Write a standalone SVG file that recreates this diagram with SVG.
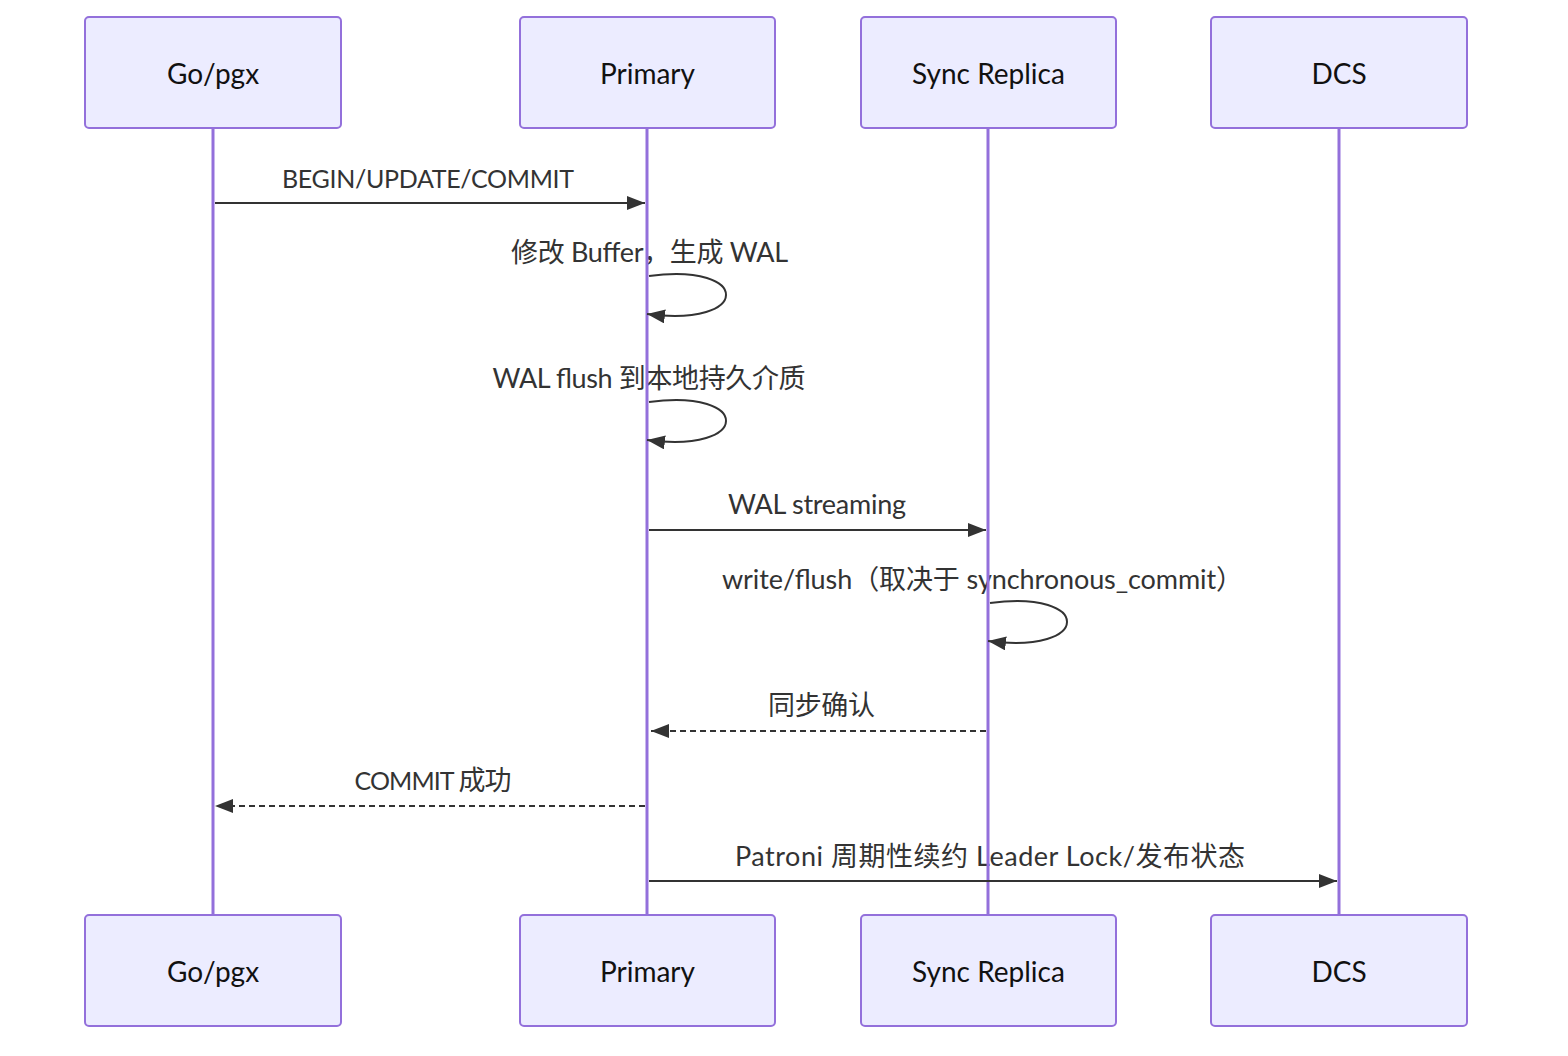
<svg xmlns="http://www.w3.org/2000/svg" width="1568" height="1056" viewBox="0 0 1568 1056">
<style>
.actor rect{fill:#ECECFF;stroke:#9370DB;stroke-width:2}
.actor text{font-family:Lato,"Noto Sans CJK SC",sans-serif;font-size:28px;fill:#111;text-anchor:middle;dominant-baseline:central}
.life{stroke:#9370DB;stroke-width:3}
.msg{stroke:#333;stroke-width:2;fill:none}
.dash{stroke-dasharray:6,4}
.lbl{font-family:Lato,"Noto Sans CJK SC",sans-serif;font-size:27px;fill:#333;text-anchor:middle}
.caps{font-size:25px}
</style>
<defs>
<marker id="arrow" markerUnits="userSpaceOnUse" markerWidth="20" markerHeight="16" refX="18" refY="7" orient="auto">
<path d="M0,0 L18,7 L0,14 z" fill="#333"/>
</marker>
</defs>
<rect width="1568" height="1056" fill="#fff"/>
<g id="labels">
<text class="lbl caps" x="428" y="188" textLength="292" lengthAdjust="spacing">BEGIN/UPDATE/COMMIT</text>
<text class="lbl" x="649.5" y="262" textLength="277" lengthAdjust="spacing">修改 Buffer，生成 WAL</text>
<text class="lbl" x="649" y="388" textLength="313" lengthAdjust="spacing">WAL flush 到本地持久介质</text>
<text class="lbl" x="817" y="514" textLength="178" lengthAdjust="spacing">WAL streaming</text>
<text class="lbl" x="982.5" y="589" textLength="521" lengthAdjust="spacing">write/flush（取决于 synchronous_commit）</text>
<text class="lbl" x="821.5" y="715" textLength="107" lengthAdjust="spacing">同步确认</text>
<text class="lbl" x="433" y="790" textLength="157" lengthAdjust="spacing"><tspan class="caps">COMMIT </tspan>成功</text>
<text class="lbl" x="990" y="866" textLength="510" lengthAdjust="spacing">Patroni 周期性续约 Leader Lock/发布状态</text>
</g>
<g id="lifelines">
<line class="life" x1="213" y1="128" x2="213" y2="915"/>
<line class="life" x1="647" y1="128" x2="647" y2="915"/>
<line class="life" x1="988" y1="128" x2="988" y2="915"/>
<line class="life" x1="1339" y1="128" x2="1339" y2="915"/>
</g>
<g id="connectors">
<line class="msg" x1="215" y1="203" x2="645" y2="203" marker-end="url(#arrow)"/>
<path class="msg" d="M649,276 C752,262 752,328 647,314" marker-end="url(#arrow)"/>
<path class="msg" d="M649,402 C752,388 752,454 647,440" marker-end="url(#arrow)"/>
<line class="msg" x1="649" y1="530" x2="986" y2="530" marker-end="url(#arrow)"/>
<path class="msg" d="M990,603 C1093,589 1093,655 988,641" marker-end="url(#arrow)"/>
<line class="msg dash" x1="986" y1="731" x2="651" y2="731" marker-end="url(#arrow)"/>
<line class="msg dash" x1="645" y1="806" x2="215" y2="806" marker-end="url(#arrow)"/>
<line class="msg" x1="649" y1="881" x2="1337" y2="881" marker-end="url(#arrow)"/>
</g>
<g id="actor-gopgx-top" class="actor"><rect x="85" y="17" width="256" height="111" rx="4"/><text x="213" y="73">Go/pgx</text></g>
<g id="actor-primary-top" class="actor"><rect x="520" y="17" width="255" height="111" rx="4"/><text x="647.5" y="73">Primary</text></g>
<g id="actor-sync-top" class="actor"><rect x="861" y="17" width="255" height="111" rx="4"/><text x="988.5" y="73">Sync Replica</text></g>
<g id="actor-dcs-top" class="actor"><rect x="1211" y="17" width="256" height="111" rx="4"/><text x="1339" y="73">DCS</text></g>
<g id="actor-gopgx-bottom" class="actor"><rect x="85" y="915" width="256" height="111" rx="4"/><text x="213" y="971">Go/pgx</text></g>
<g id="actor-primary-bottom" class="actor"><rect x="520" y="915" width="255" height="111" rx="4"/><text x="647.5" y="971">Primary</text></g>
<g id="actor-sync-bottom" class="actor"><rect x="861" y="915" width="255" height="111" rx="4"/><text x="988.5" y="971">Sync Replica</text></g>
<g id="actor-dcs-bottom" class="actor"><rect x="1211" y="915" width="256" height="111" rx="4"/><text x="1339" y="971">DCS</text></g>
</svg>
